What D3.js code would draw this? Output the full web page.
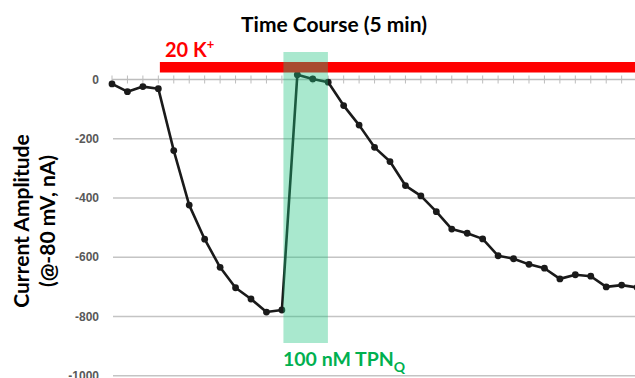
<!DOCTYPE html>
<html>
<head>
<meta charset="utf-8">
<script src="https://cdn.jsdelivr.net/npm/d3@7"></script>
<style>
  body { margin: 0; background: #fff; }
  svg { display: block; }
  .lbl { font-family: Lato, "Open Sans", sans-serif; font-weight: bold; }
  .tick-label { font-family: "Liberation Sans", Arial, sans-serif; font-weight: bold; font-size: 12px; fill: #595959; }
</style>
</head>
<body>
<div id="chart"></div>
<script>
// time points (sample index, ~5 min course)
const times = [0, 1, 2, 3, 4, 5, 6, 7, 8, 9, 10, 11, 12, 13, 14, 15, 16, 17,
  18, 19, 20, 21, 22, 23, 24, 25, 26, 27, 28, 29, 30, 31, 32, 33, 34];
// current amplitude at -80 mV (nA)
const amplitudes = [-15, -41, -24, -31, -240, -424, -539, -634, -703, -741, -785, -778,
  16, 2, -9, -88, -154, -229, -277, -358, -393, -446, -505, -519, -538,
  -595, -605, -624, -637, -673, -659, -664, -700, -694, -702];
const yTicks = [0, -200, -400, -600, -800, -1000];
// treatment windows, in time-point units
const potassiumWindow = [3.1, 35];
const tpnqWindow = [11.1, 13.98];

const width = 635, height = 378;

const svg = d3.select('#chart').append('svg')
  .attr('width', width)
  .attr('height', height);

const x = d3.scaleLinear().domain([0, 34]).range([112, 637.1]);
const y = d3.scaleLinear().domain([-1000, 0]).range([375.75, 79.5]);

// gridlines
svg.append('g').selectAll('line')
  .data(yTicks.filter(d => d !== 0))
  .join('line')
  .attr('x1', 113).attr('x2', width)
  .attr('y1', d => y(d)).attr('y2', d => y(d))
  .attr('stroke', '#c4c4c4')
  .attr('stroke-width', 1.5);

// y tick labels
svg.append('g').selectAll('text')
  .data(yTicks)
  .join('text')
  .attr('class', 'tick-label')
  .attr('x', 99)
  .attr('y', d => y(d))
  .attr('dy', '0.35em')
  .attr('text-anchor', 'end')
  .text(d => d);

// zero axis with tick marks
svg.append('line')
  .attr('x1', 112).attr('x2', width)
  .attr('y1', y(0)).attr('y2', y(0))
  .attr('stroke', '#bdbdbd')
  .attr('stroke-width', 1.5);

svg.append('g').selectAll('line')
  .data(times)
  .join('line')
  .attr('x1', d => x(d)).attr('x2', d => x(d))
  .attr('y1', y(0) - 4).attr('y2', y(0) + 4)
  .attr('stroke', '#bdbdbd')
  .attr('stroke-width', 1);

// data line + markers
const line = d3.line()
  .x((d, i) => x(times[i]))
  .y(d => y(d));

svg.append('path')
  .datum(amplitudes)
  .attr('d', line)
  .attr('fill', 'none')
  .attr('stroke', '#1a1a1a')
  .attr('stroke-width', 2.6)
  .attr('stroke-linejoin', 'round');

svg.append('g').selectAll('circle')
  .data(amplitudes)
  .join('circle')
  .attr('cx', (d, i) => x(times[i]))
  .attr('cy', d => y(d))
  .attr('r', 3.4)
  .attr('fill', '#1a1a1a');

// 20 K+ bar
svg.append('rect')
  .attr('x', x(potassiumWindow[0]))
  .attr('y', 62)
  .attr('width', x(potassiumWindow[1]) - x(potassiumWindow[0]))
  .attr('height', 10.5)
  .attr('fill', '#ff0000');

// TPNQ window, drawn over the trace
svg.append('rect')
  .attr('x', x(tpnqWindow[0]))
  .attr('y', 52)
  .attr('width', x(tpnqWindow[1]) - x(tpnqWindow[0]))
  .attr('height', 291)
  .attr('fill', 'rgb(30,195,125)')
  .attr('fill-opacity', 0.38);

// title
svg.append('text')
  .attr('class', 'lbl')
  .attr('x', 334)
  .attr('y', 32)
  .attr('text-anchor', 'middle')
  .attr('font-size', 21)
  .attr('fill', '#000')
  .text('Time Course (5 min)');

const kLabel = svg.append('text')
  .attr('class', 'lbl')
  .attr('x', 165)
  .attr('y', 57)
  .attr('font-size', 20)
  .attr('fill', '#ff0000');
kLabel.append('tspan').text('20 K');
kLabel.append('tspan').attr('font-size', 13).attr('dy', -8).text('+');

const tLabel = svg.append('text')
  .attr('class', 'lbl')
  .attr('x', 283)
  .attr('y', 366)
  .attr('font-size', 19.5)
  .attr('fill', '#00b050');
tLabel.append('tspan').text('100 nM TPN');
tLabel.append('tspan').attr('font-size', 14).attr('dy', 6).text('Q');

// y axis title
const yTitle = svg.append('g')
  .attr('transform', 'translate(0,221) rotate(-90)');
yTitle.append('text')
  .attr('class', 'lbl')
  .attr('x', 0).attr('y', 29)
  .attr('text-anchor', 'middle')
  .attr('font-size', 21)
  .text('Current Amplitude');
yTitle.append('text')
  .attr('class', 'lbl')
  .attr('x', 0).attr('y', 55)
  .attr('text-anchor', 'middle')
  .attr('font-size', 21)
  .text('(@-80 mV, nA)');
</script>
</body>
</html>
